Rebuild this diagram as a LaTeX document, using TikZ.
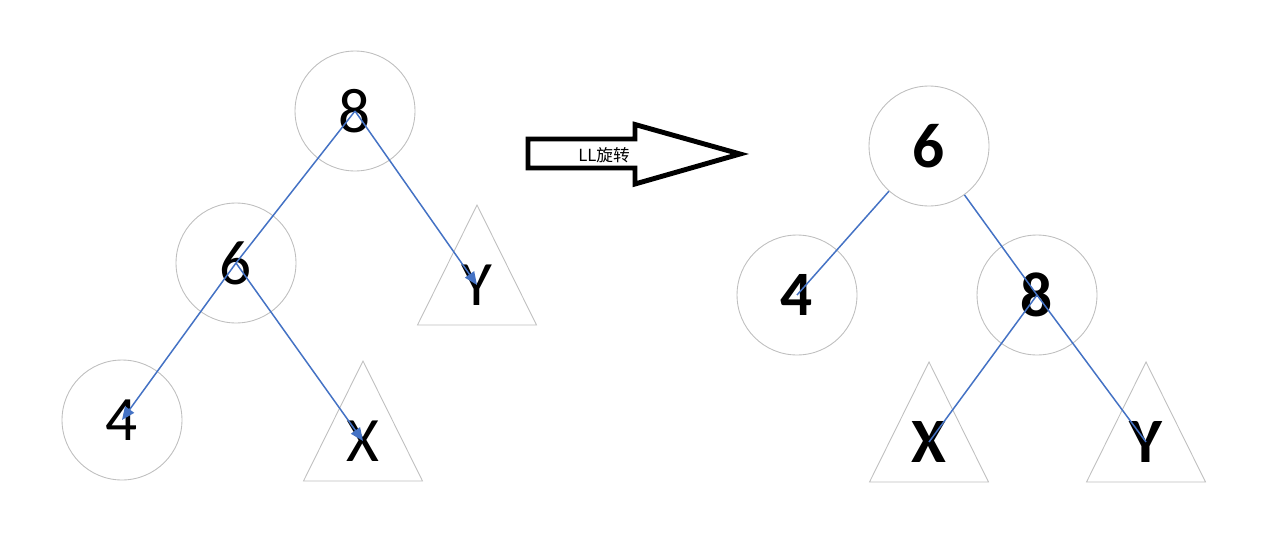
\documentclass[tikz,border=0pt]{standalone}
\usepackage{fontspec}
\setmainfont{Carlito}
\newfontfamily\cjk{Noto Sans CJK SC}
\usepackage{xcolor}
\usetikzlibrary{arrows.meta}

\definecolor{linkblue}{HTML}{4472C4}
\definecolor{ringgray}{HTML}{BFBFBF}

\tikzset{
    tnode/.style={circle, draw=ringgray, line width=0.5pt, minimum size=2.4cm, inner sep=0pt, font=\fontsize{36}{37}\selectfont},
    tri/.style={draw=ringgray, line width=0.5pt},
    leaf/.style={inner sep=0pt, font=\fontsize{36}{37}\selectfont},
    link/.style={draw=linkblue, line width=0.85pt},
    tolink/.style={link, -{Triangle[length=2.6mm,width=2.2mm]}}
}

\begin{document}
\begin{tikzpicture}[x=0.02cm, y=-0.02cm]
    \useasboundingbox (0,0) rectangle (1263,551);

    % left tree, before rotation
    \foreach \n/\x/\y/\t in {l8/355/111/8, l6/236/263/6, l4/122/420/4} {
        \node[tnode] (\n) at (\x,\y) {\t};
    }
    \foreach \n/\x/\y/\t in {lY/477/205/Y, lX/363/361/X} {
        \draw[tri] (\x,\y) -- ++(-59.5,120) -- ++(119,0) -- cycle;
        \node[leaf] (\n) at (\x,\y+80) {\t};
    }
    \draw[link] (l8.center) -- (l6.center);
    \draw[tolink] (l8.center) -- (lY.center);
    \draw[tolink] (l6.center) -- (l4.center);
    \draw[tolink] (l6.center) -- (lX.center);

    % the big arrow
    \draw[line width=2.8pt, line join=miter] (528,139) -- (635,139) -- (635,124.5) -- (740,154)
        -- (635,184) -- (635,168) -- (528,168) -- cycle;
    \node[font=\cjk\fontsize{9.5}{10}\selectfont] (rot) at (604,155) {LL旋转};

    % right tree, after rotation
    \foreach \n/\x/\y/\t in {r6/929/146/6, r4/797/295/4, r8/1037/295/8} {
        \node[tnode, font=\fontsize{36}{37}\selectfont\bfseries] (\n) at (\x,\y) {\t};
    }
    \foreach \n/\x/\y/\t in {rX/929/362/X, rY/1146/362/Y} {
        \draw[tri] (\x,\y) -- ++(-59.5,120) -- ++(119,0) -- cycle;
        \node[leaf, font=\fontsize{36}{37}\selectfont\bfseries] (\n) at (\x,\y+80) {\t};
    }
    \draw[link] (r6) -- (r4.center);
    \draw[link] (r6) -- (r8.center) -- (rY.center);
    \draw[link] (r8.center) -- (rX.center);
\end{tikzpicture}
\end{document}
